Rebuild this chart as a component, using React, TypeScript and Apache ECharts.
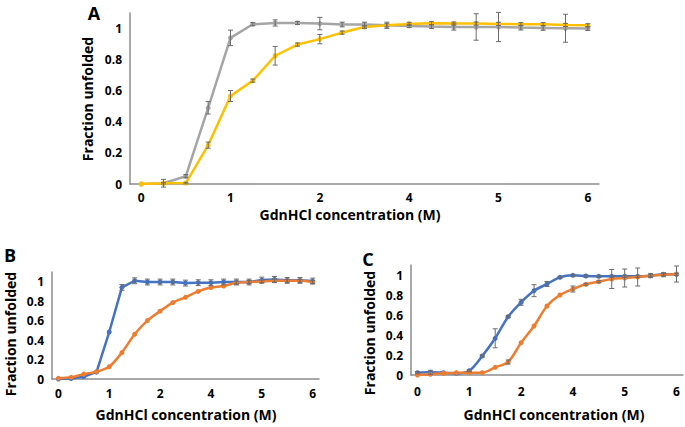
import React, { useEffect, useRef } from "react";
import * as echarts from "echarts";

// GdnHCl concentration (M) categories; axis shows every 4th
const concentrations = ["0", "0.25", "0.5", "0.75", "1", "1.25", "1.5", "1.75", "2", "2.5", "3", "3.5", "4", "4.25", "4.5", "4.75", "5", "5.25", "5.5", "5.75", "6"];

// Panel A
const aGray = [0, 0.005, 0.05, 0.49, 0.94, 1.028, 1.036, 1.036, 1.032, 1.026, 1.026, 1.021, 1.017, 1.013, 1.01, 1.01, 1.01, 1.006, 1.004, 1.002, 1.0];
const aGrayErr = [0, 0.025, 0.01, 0.04, 0.05, 0.01, 0.02, 0.01, 0.04, 0.015, 0.015, 0.02, 0.01, 0.012, 0.02, 0.085, 0.094, 0.015, 0.015, 0.09, 0.012];
const aYellow = [0, 0.005, 0.006, 0.25, 0.566, 0.665, 0.825, 0.897, 0.932, 0.974, 1.01, 1.021, 1.03, 1.034, 1.032, 1.032, 1.03, 1.028, 1.028, 1.023, 1.021];
const aYellowErr = [0, 0.005, 0.005, 0.02, 0.035, 0.01, 0.06, 0.01, 0.03, 0.01, 0.01, 0.01, 0.01, 0.01, 0.01, 0.01, 0.01, 0.01, 0.01, 0.01, 0.01];

// Panel B
const bBlue = [0, 0.005, 0.024, 0.07, 0.483, 0.942, 1.01, 0.997, 0.997, 0.997, 0.986, 0.99, 0.99, 0.997, 0.997, 0.997, 1.017, 1.024, 1.014, 1.014, 1.007];
const bBlueErr = [0, 0, 0, 0, 0, 0.03, 0.03, 0.03, 0.03, 0.03, 0.03, 0.03, 0.03, 0.03, 0.03, 0.03, 0.03, 0.03, 0.03, 0.03, 0.03];
const bOrange = [0.007, 0.017, 0.05, 0.075, 0.126, 0.272, 0.46, 0.6, 0.697, 0.786, 0.84, 0.9, 0.94, 0.956, 0.99, 0.997, 1.003, 1.01, 1.01, 1.01, 0.997];
const bOrangeErr = [0, 0, 0, 0, 0, 0, 0, 0, 0, 0, 0, 0, 0, 0, 0.015, 0.015, 0.015, 0.015, 0.015, 0.015, 0.015];

// Panel C
const cBlue = [0.023, 0.027, 0.023, 0.017, 0.043, 0.19, 0.367, 0.583, 0.727, 0.843, 0.91, 0.977, 0.997, 0.99, 0.987, 0.987, 0.987, 0.987, 0.993, 1.007, 1.007];
const cBlueErr = [0.01, 0.02, 0, 0, 0.01, 0.01, 0.095, 0.01, 0.03, 0.06, 0.025, 0.01, 0.01, 0.01, 0.01, 0.01, 0.01, 0.01, 0.01, 0.01, 0.01];
const cOrange = [0, 0.007, 0.017, 0.023, 0.023, 0.023, 0.077, 0.13, 0.323, 0.49, 0.69, 0.8, 0.86, 0.907, 0.933, 0.96, 0.97, 0.98, 0.993, 1.003, 1.01];
const cOrangeErr = [0, 0, 0, 0, 0, 0, 0, 0.02, 0, 0, 0, 0, 0.03, 0.01, 0.01, 0.095, 0.09, 0.09, 0.02, 0.02, 0.08];

const yTicks = { min: 0, max: 1.1, interval: 0.2 };

const FONT = "Open Sans";
const AXIS_COLOR = "#8c8c8c";
const ERR_COLOR = "#6b6b6b";

const GRAY = "#A5A5A5";
const YELLOW = "#FFC000";
const BLUE = "#4472C4";
const ORANGE = "#ED7D31";

function lineSeries(data: number[], color: string, idx: number, smooth: boolean | number) {
  return {
    type: "line",
    xAxisIndex: idx,
    yAxisIndex: idx,
    data,
    smooth,
    symbol: "circle",
    symbolSize: 5,
    lineStyle: { color, width: 2.5 },
    itemStyle: { color },
    z: 2,
  };
}

function errSeries(values: number[], errs: number[], idx: number) {
  return {
    type: "custom",
    xAxisIndex: idx,
    yAxisIndex: idx,
    z: 5,
    data: values.map((v, i) => [i, v, errs[i]]),
    renderItem: (_params: any, api: any) => {
      const x = api.value(0);
      const v = api.value(1);
      const e = api.value(2);
      if (!e) return null;
      const hi = api.coord([x, v + e]);
      const lo = api.coord([x, v - e]);
      const w = 2.5;
      const st = { stroke: ERR_COLOR, lineWidth: 1 };
      return {
        type: "group",
        children: [
          { type: "line", shape: { x1: hi[0], y1: hi[1], x2: lo[0], y2: lo[1] }, style: st },
          { type: "line", shape: { x1: hi[0] - w, y1: hi[1], x2: hi[0] + w, y2: hi[1] }, style: st },
          { type: "line", shape: { x1: lo[0] - w, y1: lo[1], x2: lo[0] + w, y2: lo[1] }, style: st },
        ],
      };
    },
  };
}

function xAxis(idx: number, margin: number) {
  return {
    type: "category",
    gridIndex: idx,
    data: concentrations,
    boundaryGap: true,
    axisLine: { lineStyle: { color: AXIS_COLOR, width: 1.5 } },
    axisTick: { show: false },
    axisLabel: {
      interval: 3,
      margin,
      fontFamily: FONT,
      fontWeight: "bold",
      fontSize: 12,
      color: "#000",
    },
    splitLine: { show: false },
  };
}

function yAxis(idx: number) {
  return {
    type: "value",
    gridIndex: idx,
    ...yTicks,
    axisLine: { show: true, lineStyle: { color: AXIS_COLOR, width: 1.5 } },
    axisTick: { show: false },
    splitLine: { show: false },
    axisLabel: {
      showMaxLabel: false,
      margin: 8,
      fontFamily: FONT,
      fontWeight: "bold",
      fontSize: 12,
      color: "#000",
      formatter: (v: number) => String(Math.round(v * 10) / 10),
    },
  };
}

function text(str: string, x: number, y: number, size: number, rotate = false) {
  return {
    type: "text",
    x,
    y,
    rotation: rotate ? Math.PI / 2 : 0,
    style: {
      text: str,
      fontFamily: FONT,
      fontWeight: "bold",
      fontSize: size,
      fill: "#000",
      align: "center",
      verticalAlign: "middle",
    },
  };
}

export default function App() {
  const ref = useRef<HTMLDivElement>(null);
  useEffect(() => {
    if (!ref.current) return;
    const chart = echarts.init(ref.current, undefined, { renderer: "svg" });
    chart.setOption({
      animation: false,
      backgroundColor: "#fff",
      grid: [
        { left: 130, top: 13, width: 469, height: 171 },
        { left: 52, top: 272, width: 267, height: 107 },
        { left: 411, top: 265, width: 272, height: 110 },
      ],
      xAxis: [xAxis(0, 7), xAxis(1, 8), xAxis(2, 10)],
      yAxis: [yAxis(0), yAxis(1), yAxis(2)],
      series: [
        lineSeries(aGray, GRAY, 0, false),
        lineSeries(aYellow, YELLOW, 0, false),
        errSeries(aGray, aGrayErr, 0),
        errSeries(aYellow, aYellowErr, 0),
        lineSeries(bBlue, BLUE, 1, false),
        lineSeries(bOrange, ORANGE, 1, 0.3),
        errSeries(bBlue, bBlueErr, 1),
        errSeries(bOrange, bOrangeErr, 1),
        lineSeries(cBlue, BLUE, 2, 0.3),
        lineSeries(cOrange, ORANGE, 2, 0.3),
        errSeries(cBlue, cBlueErr, 2),
        errSeries(cOrange, cOrangeErr, 2),
      ],
      graphic: [
        text("A", 94, 13, 18),
        text("B", 10, 255, 18),
        text("C", 368, 259, 18),
        text("Fraction unfolded", 87, 99, 14, true),
        text("Fraction unfolded", 10, 334, 14, true),
        text("Fraction unfolded", 369, 333, 14, true),
        text("GdnHCl concentration (M)", 350, 214, 14),
        text("GdnHCl concentration (M)", 186, 414, 14),
        text("GdnHCl concentration (M)", 554, 414, 14),
      ],
    });
    return () => chart.dispose();
  }, []);
  return (
    <div
      ref={ref}
      style={{ position: "absolute", left: 0, top: 0, width: 685, height: 427, background: "#fff" }}
    />
  );
}
